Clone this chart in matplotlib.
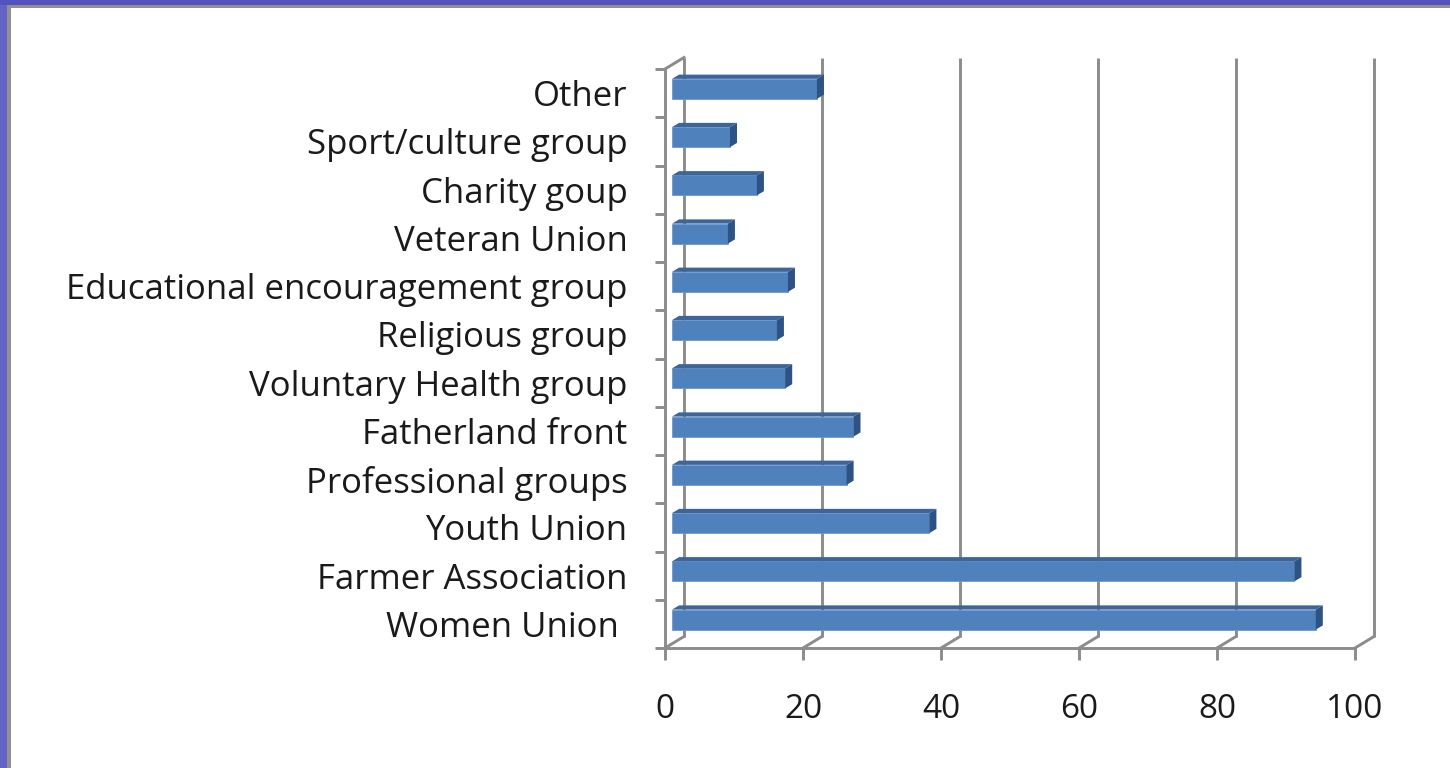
import numpy as np
import matplotlib.pyplot as plt
from matplotlib.patches import Polygon, Rectangle

plt.rcParams['font.family'] = ['Open Sans', 'DejaVu Sans']

# organisations, bottom to top
groups = ['Women Union ', 'Farmer Association', 'Youth Union', 'Professional groups',
          'Fatherland front', 'Voluntary Health group', 'Religious group',
          'Educational encouragement group', 'Veteran Union', 'Charity goup',
          'Sport/culture group', 'Other']
shares = [93.3, 90.2, 37.3, 25.3, 26.3, 16.4, 15.2, 16.8, 8.1, 12.3, 8.4, 21.0]
xticks = [0, 20, 40, 60, 80, 100]

W, H = 1450, 768
grey = '#8c8c8c'
lw = 2.1

# fake 3d: depth shift of the back wall in data units
DX = 2.75
DY = 0.238
f0, f1 = 0.37, 0.74   # bar depth span
bh = 0.415

fig = plt.figure(figsize=(W / 100, H / 100), dpi=100)
fig.patch.set_facecolor('white')

# slide frame on the left and top
fig.add_artist(Rectangle((0, 0), 7 / W, 1, transform=fig.transFigure,
                         facecolor='#6464c8', edgecolor='none'))
fig.add_artist(Rectangle((7 / W, 0), 4 / W, 1 - 5 / H, transform=fig.transFigure,
                         facecolor='#909090', edgecolor='none'))
fig.add_artist(Rectangle((0, 1 - 5 / H), 1, 5 / H, transform=fig.transFigure,
                         facecolor='#5252c0', edgecolor='none'))
fig.add_artist(Rectangle((7 / W, 1 - 8 / H), 1, 3 / H, transform=fig.transFigure,
                         facecolor='#909090', edgecolor='none'))

ax = fig.add_axes([665 / W, (H - 648) / H, 690 / W, (648 - 69) / H])
ax.set_xlim(0, 100)
ax.set_ylim(-0.5, len(groups) - 0.5)
ytop = len(groups) - 0.5

# back wall gridlines and floor diagonals
for v in xticks:
    ax.plot([v + DX, v + DX], [-0.5 + DY, ytop + DY], color=grey, lw=lw,
            clip_on=False, zorder=1, solid_capstyle='butt')
    ax.plot([v, v + DX], [-0.5, -0.5 + DY], color=grey, lw=lw,
            clip_on=False, zorder=1)
ax.plot([0, DX], [ytop, ytop + DY], color=grey, lw=lw, clip_on=False, zorder=1)

# bars: front face plus top and side faces
ypos = np.arange(len(groups))
x0 = f0 * DX
ax.barh(ypos + f0 * DY, shares, height=bh, left=x0, color='#4f81bd',
        edgecolor='#6f98cc', linewidth=0.6, zorder=3, clip_on=False)
for y, v in zip(ypos, shares):
    yb = y + f0 * DY - bh / 2
    yt = y + f0 * DY + bh / 2
    d = (f1 - f0)
    top = Polygon([(x0, yt), (x0 + v, yt), (x0 + v + d * DX, yt + d * DY),
                   (x0 + d * DX, yt + d * DY)], closed=True,
                  facecolor='#3c659b', edgecolor='none', zorder=3, clip_on=False)
    side = Polygon([(x0 + v, yb), (x0 + v + d * DX, yb + d * DY),
                    (x0 + v + d * DX, yt + d * DY), (x0 + v, yt)], closed=True,
                   facecolor='#2d5283', edgecolor='none', zorder=3, clip_on=False)
    ax.add_patch(top)
    ax.add_patch(side)

for s in ['top', 'right']:
    ax.spines[s].set_visible(False)
for s in ['left', 'bottom']:
    ax.spines[s].set_color(grey)
    ax.spines[s].set_linewidth(lw)

ax.set_yticks(ypos, groups)
ax.set_yticks(np.arange(-0.5, len(groups)), minor=True)
ax.tick_params(axis='y', which='major', length=0, pad=27, labelsize=25,
               labelcolor='#1a1a1a')
ax.tick_params(axis='y', which='minor', length=7.2, width=lw, color=grey)
ax.set_xticks(xticks)
ax.tick_params(axis='x', length=8.5, width=lw, color=grey, pad=24,
               labelsize=24, labelcolor='#1a1a1a')
ax.set_facecolor('none')

fig.savefig('out.png', dpi=100, facecolor=fig.get_facecolor())
